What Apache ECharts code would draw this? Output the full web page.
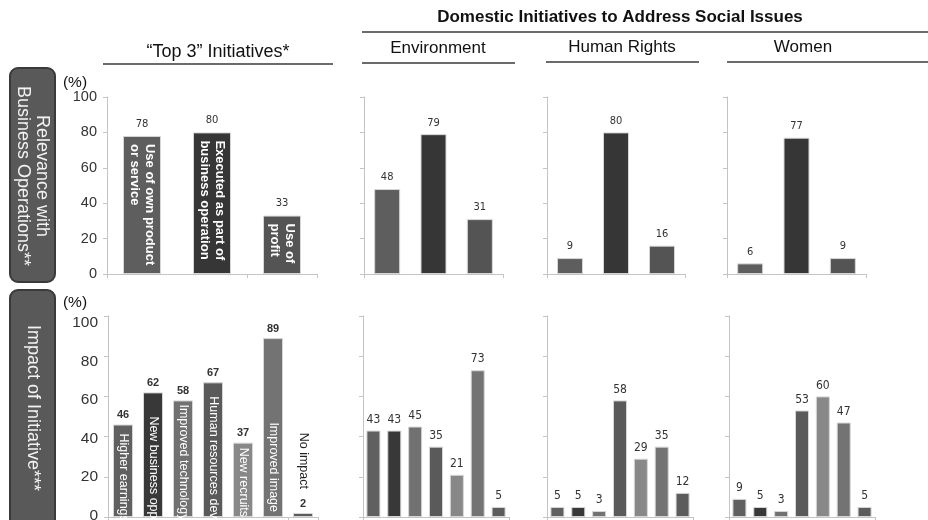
<!DOCTYPE html>
<html>
<head>
<meta charset="utf-8">
<script src="https://cdn.jsdelivr.net/npm/echarts@6/dist/echarts.min.js"></script>
<style>
  html, body { margin: 0; padding: 0; background: #ffffff; }
  #chart { width: 928px; height: 520px; }
</style>
</head>
<body>
<div id="chart"></div>
<script>
// ---- Data -------------------------------------------------------------
const yTickValues = [0, 20, 40, 60, 80, 100];

const relevanceNames = ['Use of own product\nor service', 'Executed as part of\nbusiness operation', 'Use of\nprofit'];
const top3Relevance = [78, 80, 33];
const envRelevance = [48, 79, 31];
const hrRelevance = [9, 80, 16];
const womenRelevance = [6, 77, 9];

const impactNames = ['Higher earnings', 'New business opps', 'Improved technology', 'Human resources dev', 'New recruits', 'Improved image', 'No impact'];
const top3Impact = [46, 62, 58, 67, 37, 89, 2];
const envImpact = [43, 43, 45, 35, 21, 73, 5];
const hrImpact = [5, 5, 3, 58, 29, 35, 12];
const womenImpact = [9, 5, 3, 53, 60, 47, 5];

// ---- Styling ----------------------------------------------------------
const FONT = "'Liberation Sans', Arial, sans-serif";
const NARROW = "'Liberation Sans Narrow', 'DejaVu Sans Condensed', 'Liberation Sans', sans-serif";
const relevanceColors = ['#5e5e5e', '#363636', '#545454'];
const impactColors = ['#606060', '#383838', '#717171', '#5a5a5a', '#888888', '#737373', '#5c5c5c'];
const BORDER = '#d6d6d6';
const AXIS = '#c4c4c4';

// label placement for the in-bar category names of the impact panel
const impactNameLabel = [
  { position: 'insideTop', distance: 9 },
  { position: 'insideTop', distance: 24 },
  { position: 'insideTop', distance: 4 },
  { position: 'insideTop', distance: 14 },
  { position: 'insideTop', distance: 5 },
  { position: 'insideBottom', distance: 5, align: 'right' },
  { position: 'top', distance: 24, align: 'right', color: '#222' }
];

const grids = [
  { left: 107, top: 97, width: 210, height: 177 },
  { left: 364, top: 97, width: 139, height: 177 },
  { left: 547, top: 97, width: 138, height: 177 },
  { left: 727, top: 97, width: 139, height: 177 },
  { left: 108, top: 316, width: 210, height: 201 },
  { left: 363, top: 316, width: 146, height: 201 },
  { left: 547, top: 316, width: 146, height: 201 },
  { left: 729, top: 316, width: 146, height: 201 }
].map(g => Object.assign({ outerBoundsMode: 'none', containLabel: false }, g));

function makeXAxis(gi, cats) {
  return {
    type: 'category', gridIndex: gi, data: cats,
    axisLine: { show: true, lineStyle: { color: AXIS, width: 1 } },
    axisTick: { show: true, length: 4, lineStyle: { color: AXIS } },
    axisLabel: { show: false },
    splitLine: { show: false }
  };
}

function makeYAxis(gi, showLabels, fontSize) {
  return {
    type: 'value', gridIndex: gi, position: 'left', min: 0, max: 100, interval: 20,
    axisLine: { show: true, lineStyle: { color: AXIS, width: 1 } },
    axisTick: { show: true, length: 4, lineStyle: { color: AXIS } },
    splitLine: { show: false },
    axisLabel: {
      show: showLabels, fontSize: fontSize, color: '#333', fontFamily: FONT, margin: 10,
      formatter: v => (yTickValues.indexOf(v) >= 0 ? String(v) : '')
    }
  };
}

// text-only scale for the lower percentage column, set slightly tighter than the bar scale
function makeLabelAxis(gi, fontSize) {
  return {
    type: 'value', gridIndex: gi, position: 'left', offset: 0, min: -0.78, max: 103.64,
    axisLine: { show: false }, axisTick: { show: false }, splitLine: { show: false },
    axisLabel: {
      show: true, customValues: yTickValues, fontSize: fontSize, color: '#333',
      fontFamily: FONT, margin: 10, formatter: v => String(Math.round(v))
    }
  };
}

function coloredData(values, colors) {
  return values.map((v, i) => ({ value: v, itemStyle: { color: colors[i] } }));
}

function valueSeries(gi, values, colors, barWidth, labelStyle) {
  return {
    type: 'bar', xAxisIndex: gi, yAxisIndex: gi,
    data: coloredData(values, colors),
    barWidth: barWidth, barGap: '-100%',
    itemStyle: { borderColor: BORDER, borderWidth: 1 },
    label: Object.assign({ show: true, position: 'top', color: '#333' }, labelStyle),
    silent: true, animation: false
  };
}

function nameSeries(gi, values, names, barWidth, baseLabel, perItem) {
  return {
    type: 'bar', xAxisIndex: gi, yAxisIndex: gi,
    data: values.map((v, i) => {
      const item = { value: v };
      if (perItem && perItem[i]) item.label = perItem[i];
      return item;
    }),
    barWidth: barWidth, barGap: '-100%', z: 3,
    itemStyle: { color: 'rgba(0,0,0,0)', borderWidth: 0 },
    label: Object.assign({
      show: true, rotate: -90, align: 'left', verticalAlign: 'middle',
      formatter: p => names[p.dataIndex]
    }, baseLabel),
    silent: true, animation: false
  };
}

const smallRight = { fontFamily: NARROW, fontSize: 11, distance: 6 };

const series = [
  // Relevance row
  valueSeries(0, top3Relevance, relevanceColors, 38, { fontFamily: "'DejaVu Sans', sans-serif", fontSize: 10, distance: 7 }),
  nameSeries(0, top3Relevance, relevanceNames, 38,
    { position: 'insideTop', distance: 8, color: '#ffffff', fontWeight: 'bold', fontSize: 13, lineHeight: 15, fontFamily: FONT }),
  valueSeries(1, envRelevance, relevanceColors, 26, smallRight),
  valueSeries(2, hrRelevance, relevanceColors, 26, smallRight),
  valueSeries(3, womenRelevance, relevanceColors, 26, smallRight),
  // Impact row
  valueSeries(4, top3Impact, impactColors, 20, { fontFamily: FONT, fontWeight: 'bold', fontSize: 11, distance: 4 }),
  nameSeries(4, top3Impact, impactNames, 20,
    { color: '#ffffff', fontSize: 12.5, fontFamily: FONT }, impactNameLabel),
  valueSeries(5, envImpact, impactColors, 14, { fontFamily: NARROW, fontSize: 12, distance: 5 }),
  valueSeries(6, hrImpact, impactColors, 14, { fontFamily: NARROW, fontSize: 12, distance: 5 }),
  valueSeries(7, womenImpact, impactColors, 14, { fontFamily: NARROW, fontSize: 12, distance: 5 })
];

const xAxes = [
  makeXAxis(0, relevanceNames), makeXAxis(1, relevanceNames), makeXAxis(2, relevanceNames), makeXAxis(3, relevanceNames),
  makeXAxis(4, impactNames), makeXAxis(5, impactNames), makeXAxis(6, impactNames), makeXAxis(7, impactNames)
];
const yAxes = [
  makeYAxis(0, true, 14.5), makeYAxis(1, false, 14), makeYAxis(2, false, 14), makeYAxis(3, false, 14),
  makeYAxis(4, false, 15.5), makeYAxis(5, false, 15), makeYAxis(6, false, 15), makeYAxis(7, false, 15),
  makeLabelAxis(4, 15.5)
];

// ---- Headings, rules and row captions -------------------------------
function rule(x1, x2, y) {
  return { type: 'line', silent: true, shape: { x1: x1, y1: y, x2: x2, y2: y },
           style: { stroke: '#3a3a3a', lineWidth: 1.5 } };
}
function heading(text, x, y, size, weight) {
  return { type: 'text', x: x, y: y, silent: true,
           style: { text: text, fill: '#111', font: (weight || 'normal') + ' ' + size + 'px ' + FONT,
                    align: 'center', verticalAlign: 'middle' } };
}
function rowCaption(text, top, height, cy) {
  return [
    { type: 'rect', silent: true, shape: { x: 10, y: top, width: 45, height: height, r: 8 },
      style: { fill: '#595959', stroke: '#3a3a3a', lineWidth: 2 } },
    { type: 'text', silent: true, x: 32.5, y: cy, rotation: -Math.PI / 2,
      style: { text: text, fill: '#f2f2f2', font: 'normal 18px ' + FONT, lineHeight: 19,
               align: 'center', verticalAlign: 'middle' } }
  ];
}

const graphic = [].concat(
  rowCaption('Relevance with\nBusiness Operations**', 68, 214, 176),
  rowCaption('Impact of Initiative***', 290, 250, 408),
  [
    heading('Domestic Initiatives to Address Social Issues', 620, 17, 17, 'bold'),
    rule(362, 928, 32),
    heading('\u201CTop 3\u201D Initiatives*', 218, 52, 18),
    rule(103, 333, 64),
    heading('Environment', 438, 48, 17),
    rule(362, 515, 63),
    heading('Human Rights', 622, 47, 17),
    rule(546, 699, 62),
    heading('Women', 803, 47, 17),
    rule(727, 928, 62),
    heading('(%)', 75, 83, 15.5),
    heading('(%)', 75, 303, 15.5)
  ]
);

const chart = echarts.init(document.getElementById('chart'), null, { renderer: 'canvas' });
chart.setOption({
  backgroundColor: '#ffffff',
  animation: false,
  grid: grids,
  xAxis: xAxes,
  yAxis: yAxes,
  series: series,
  graphic: graphic
});
</script>
</body>
</html>
